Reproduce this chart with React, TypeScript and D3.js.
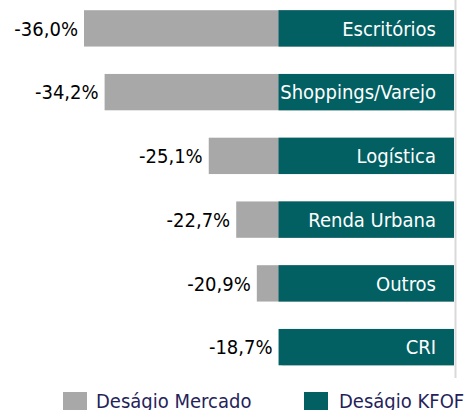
import React from 'react';
import * as d3 from 'd3';

const categories = ['Escritórios', 'Shoppings/Varejo', 'Logística', 'Renda Urbana', 'Outros', 'CRI'];
const marketValues = [-36.0, -34.2, -25.1, -22.7, -20.9, -18.7];
const kfofValues = [-19.0, -19.0, -19.0, -19.0, -19.0, -19.0];
const seriesNames = ['Deságio Mercado', 'Deságio KFOF'];

const W = 464;
const H = 410;
const GRAY = '#a8a8a8';
const TEAL = '#025f62';
const FONT = "'DejaVu Sans Condensed', 'DejaVu Sans', sans-serif";

const App = () => {
  // zero line sits past the visible plot edge, the plot is clipped at the border
  const x = d3.scaleLinear().domain([-36, 0]).range([84, 496]);
  const plotRight = 454;
  const y = d3.scaleBand<string>().domain(categories).range([-3.5, 379]).paddingInner(0.43).paddingOuter(0.215);

  const fmt = (v: number) => v.toFixed(1).replace('.', ',') + '%';

  return (
    <svg width={W} height={H} style={{ position: 'absolute', left: 0, top: 0, background: '#fff' }} fontFamily={FONT}>
      <defs>
        <clipPath id="plot">
          <rect x={0} y={0} width={plotRight} height={H} />
        </clipPath>
      </defs>
      <g clipPath="url(#plot)">
        {categories.map((c, i) => (
          <rect key={'m' + c} x={x(marketValues[i])} y={y(c)} width={x(0) - x(marketValues[i])} height={y.bandwidth()} fill={GRAY} />
        ))}
        {categories.map((c, i) => (
          <rect key={'k' + c} x={x(kfofValues[i])} y={y(c)} width={x(0) - x(kfofValues[i])} height={y.bandwidth()} fill={TEAL} />
        ))}
      </g>
      <line x1={455.5} x2={455.5} y1={0} y2={378} stroke="#d9d9d9" strokeWidth={2} />
      {categories.map((c, i) => (
        <text key={'l' + c} x={plotRight - 18} y={(y(c) as number) + y.bandwidth() / 2} dy="0.36em" textAnchor="end" fill="#fff" fontSize={20}>
          {c}
        </text>
      ))}
      {categories.map((c, i) => {
        const left = Math.min(x(marketValues[i]), x(kfofValues[i]));
        return (
          <text key={'v' + c} x={left - 6} y={(y(c) as number) + y.bandwidth() / 2} dy="0.36em" textAnchor="end" fill="#000" fontSize={20}>
            {fmt(marketValues[i])}
          </text>
        );
      })}
      <g>
        <rect x={63} y={392} width={24} height={20} fill={GRAY} />
        <text x={96} y={408} fill="#261f5a" fontSize={20}>{seriesNames[0]}</text>
        <rect x={304} y={392} width={24} height={20} fill={TEAL} />
        <text x={339} y={408} fill="#261f5a" fontSize={20}>{seriesNames[1]}</text>
      </g>
    </svg>
  );
};

export default App;
